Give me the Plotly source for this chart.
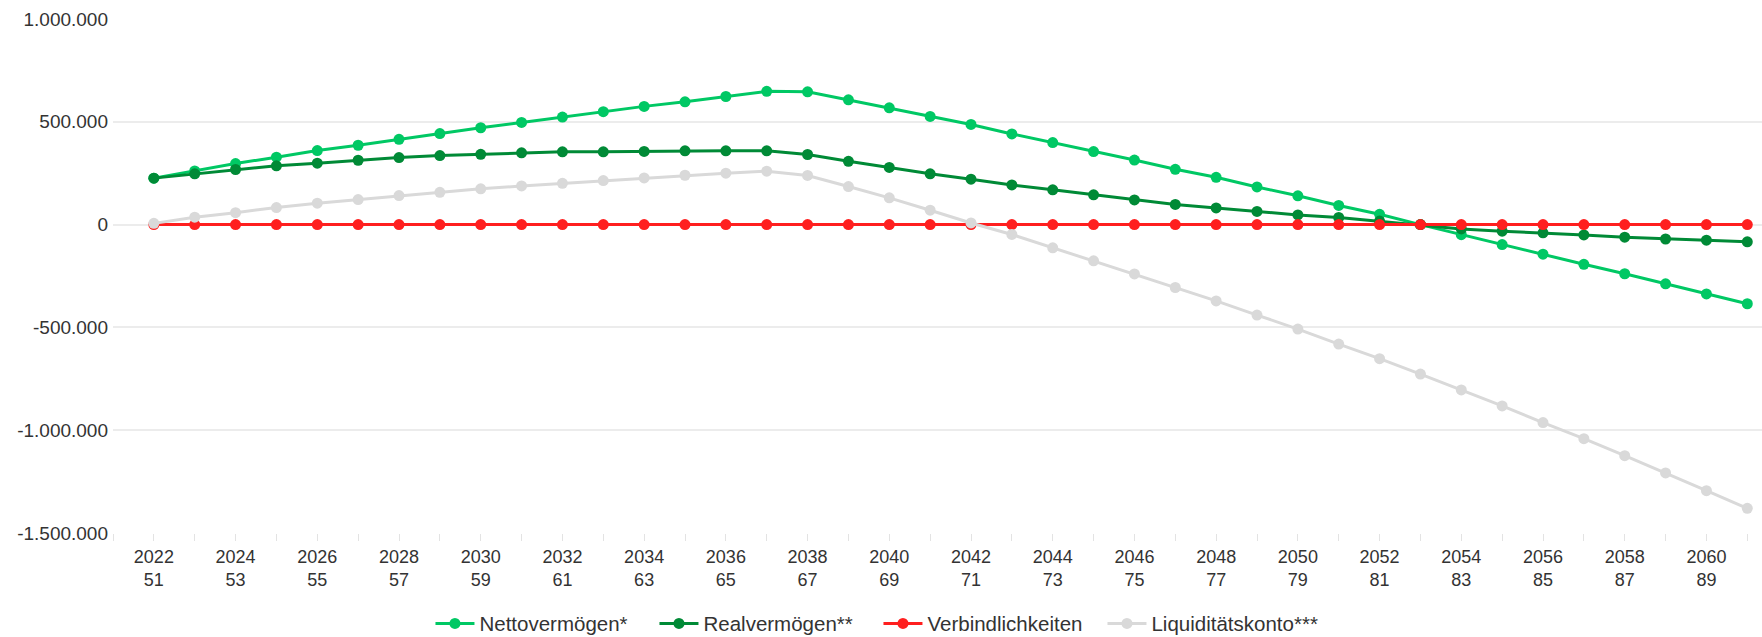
import plotly.graph_objects as go

# Projection years and the owner's age in each year
years = list(range(2022, 2062))
ages = list(range(51, 91))

# Series values in EUR
nettovermoegen = [
    226000, 261000, 297000, 328000, 360000, 386000, 415000, 443000, 471000, 497000, 523000,
    549000, 575000, 597000, 623000, 648000, 646000, 607000, 568000, 526000, 487000,
    441000, 399000, 355000, 314000, 269000, 230000, 183000, 140000, 93000, 50000, 0,
    -49000, -97000, -144000, -193000, -239000, -288000, -337000, -385000,
]
realvermoegen = [
    226000, 247000, 268000, 286000, 299000, 313000, 326000, 336000, 342000, 349000, 354000,
    354000, 356000, 359000, 359000, 359000, 341000, 308000, 278000, 247000, 221000,
    193000, 169000, 145000, 120000, 98000, 81000, 64000, 47000, 35000, 17000, 0,
    -21000, -32000, -40000, -50000, -61000, -70000, -76000, -84000,
]
verbindlichkeiten = [0] * 40
liquiditaetskonto = [
    6000, 36000, 58000, 83000, 104000, 122000, 141000, 157000, 174000, 188000, 201000,
    214000, 227000, 240000, 250000, 260000, 239000, 185000, 130000, 70000, 8000,
    -48000, -113000, -176000, -240000, -306000, -371000, -440000, -508000, -581000, -652000, -727000,
    -804000, -882000, -963000, -1041000, -1124000, -1208000, -1294000, -1380000,
]

series_names = ["Nettovermögen*", "Realvermögen**", "Verbindlichkeiten", "Liquiditätskonto***"]
series_colors = ["#00c864", "#008a36", "#ff1f1f", "#d9d9d9"]

# Y axis ticks
y_tickvals = [1000000, 500000, 0, -500000, -1000000, -1500000]
y_ticktext = ["1.000.000", "500.000", "0", "-500.000", "-1.000.000", "-1.500.000"]

# X axis: a tick on every year, a label (year + age) on every second year
x_tickvals = [2021] + years
x_ticktext = [""] + [
    f"{y}<br>{a}" if (y - 2022) % 2 == 0 else "" for y, a in zip(years, ages)
]

FONT = "Liberation Sans, Arial, sans-serif"
TEXT = "#333333"

fig = go.Figure()
for name, values, color in zip(
    series_names,
    [nettovermoegen, realvermoegen, verbindlichkeiten, liquiditaetskonto],
    series_colors,
):
    fig.add_trace(
        go.Scatter(
            x=years,
            y=values,
            name=name,
            mode="lines+markers",
            line=dict(color=color, width=3),
            marker=dict(color=color, size=11),
        )
    )

fig.update_layout(
    width=1762,
    height=637,
    margin=dict(l=113, r=0, t=19, b=104),
    paper_bgcolor="white",
    plot_bgcolor="white",
    font=dict(family=FONT, size=19, color=TEXT),
    showlegend=True,
    legend=dict(
        orientation="h",
        xref="paper",
        x=0.4642,
        xanchor="center",
        yref="container",
        y=0.021,
        yanchor="middle",
        font=dict(family=FONT, size=20.5, color=TEXT),
        itemwidth=39,
        entrywidth=170,
        entrywidthmode="pixels",
        tracegroupgap=0,
    ),
    xaxis=dict(
        range=[2021, 2061.36],
        tickmode="array",
        tickvals=x_tickvals,
        ticktext=x_ticktext,
        ticks="outside",
        ticklen=7,
        tickcolor="#e3e3e3",
        tickwidth=1,
        showgrid=False,
        showline=False,
        zeroline=False,
        tickfont=dict(family=FONT, size=18, color=TEXT),
    ),
    yaxis=dict(
        range=[-1500000, 1000000],
        tickmode="array",
        tickvals=y_tickvals,
        ticktext=y_ticktext,
        showgrid=True,
        gridcolor="#ececec",
        gridwidth=1.5,
        zeroline=False,
        showline=False,
        ticks="",
        ticklabelstandoff=4,
        tickfont=dict(family=FONT, size=19, color=TEXT),
    ),
)

fig.write_html("out.html")
